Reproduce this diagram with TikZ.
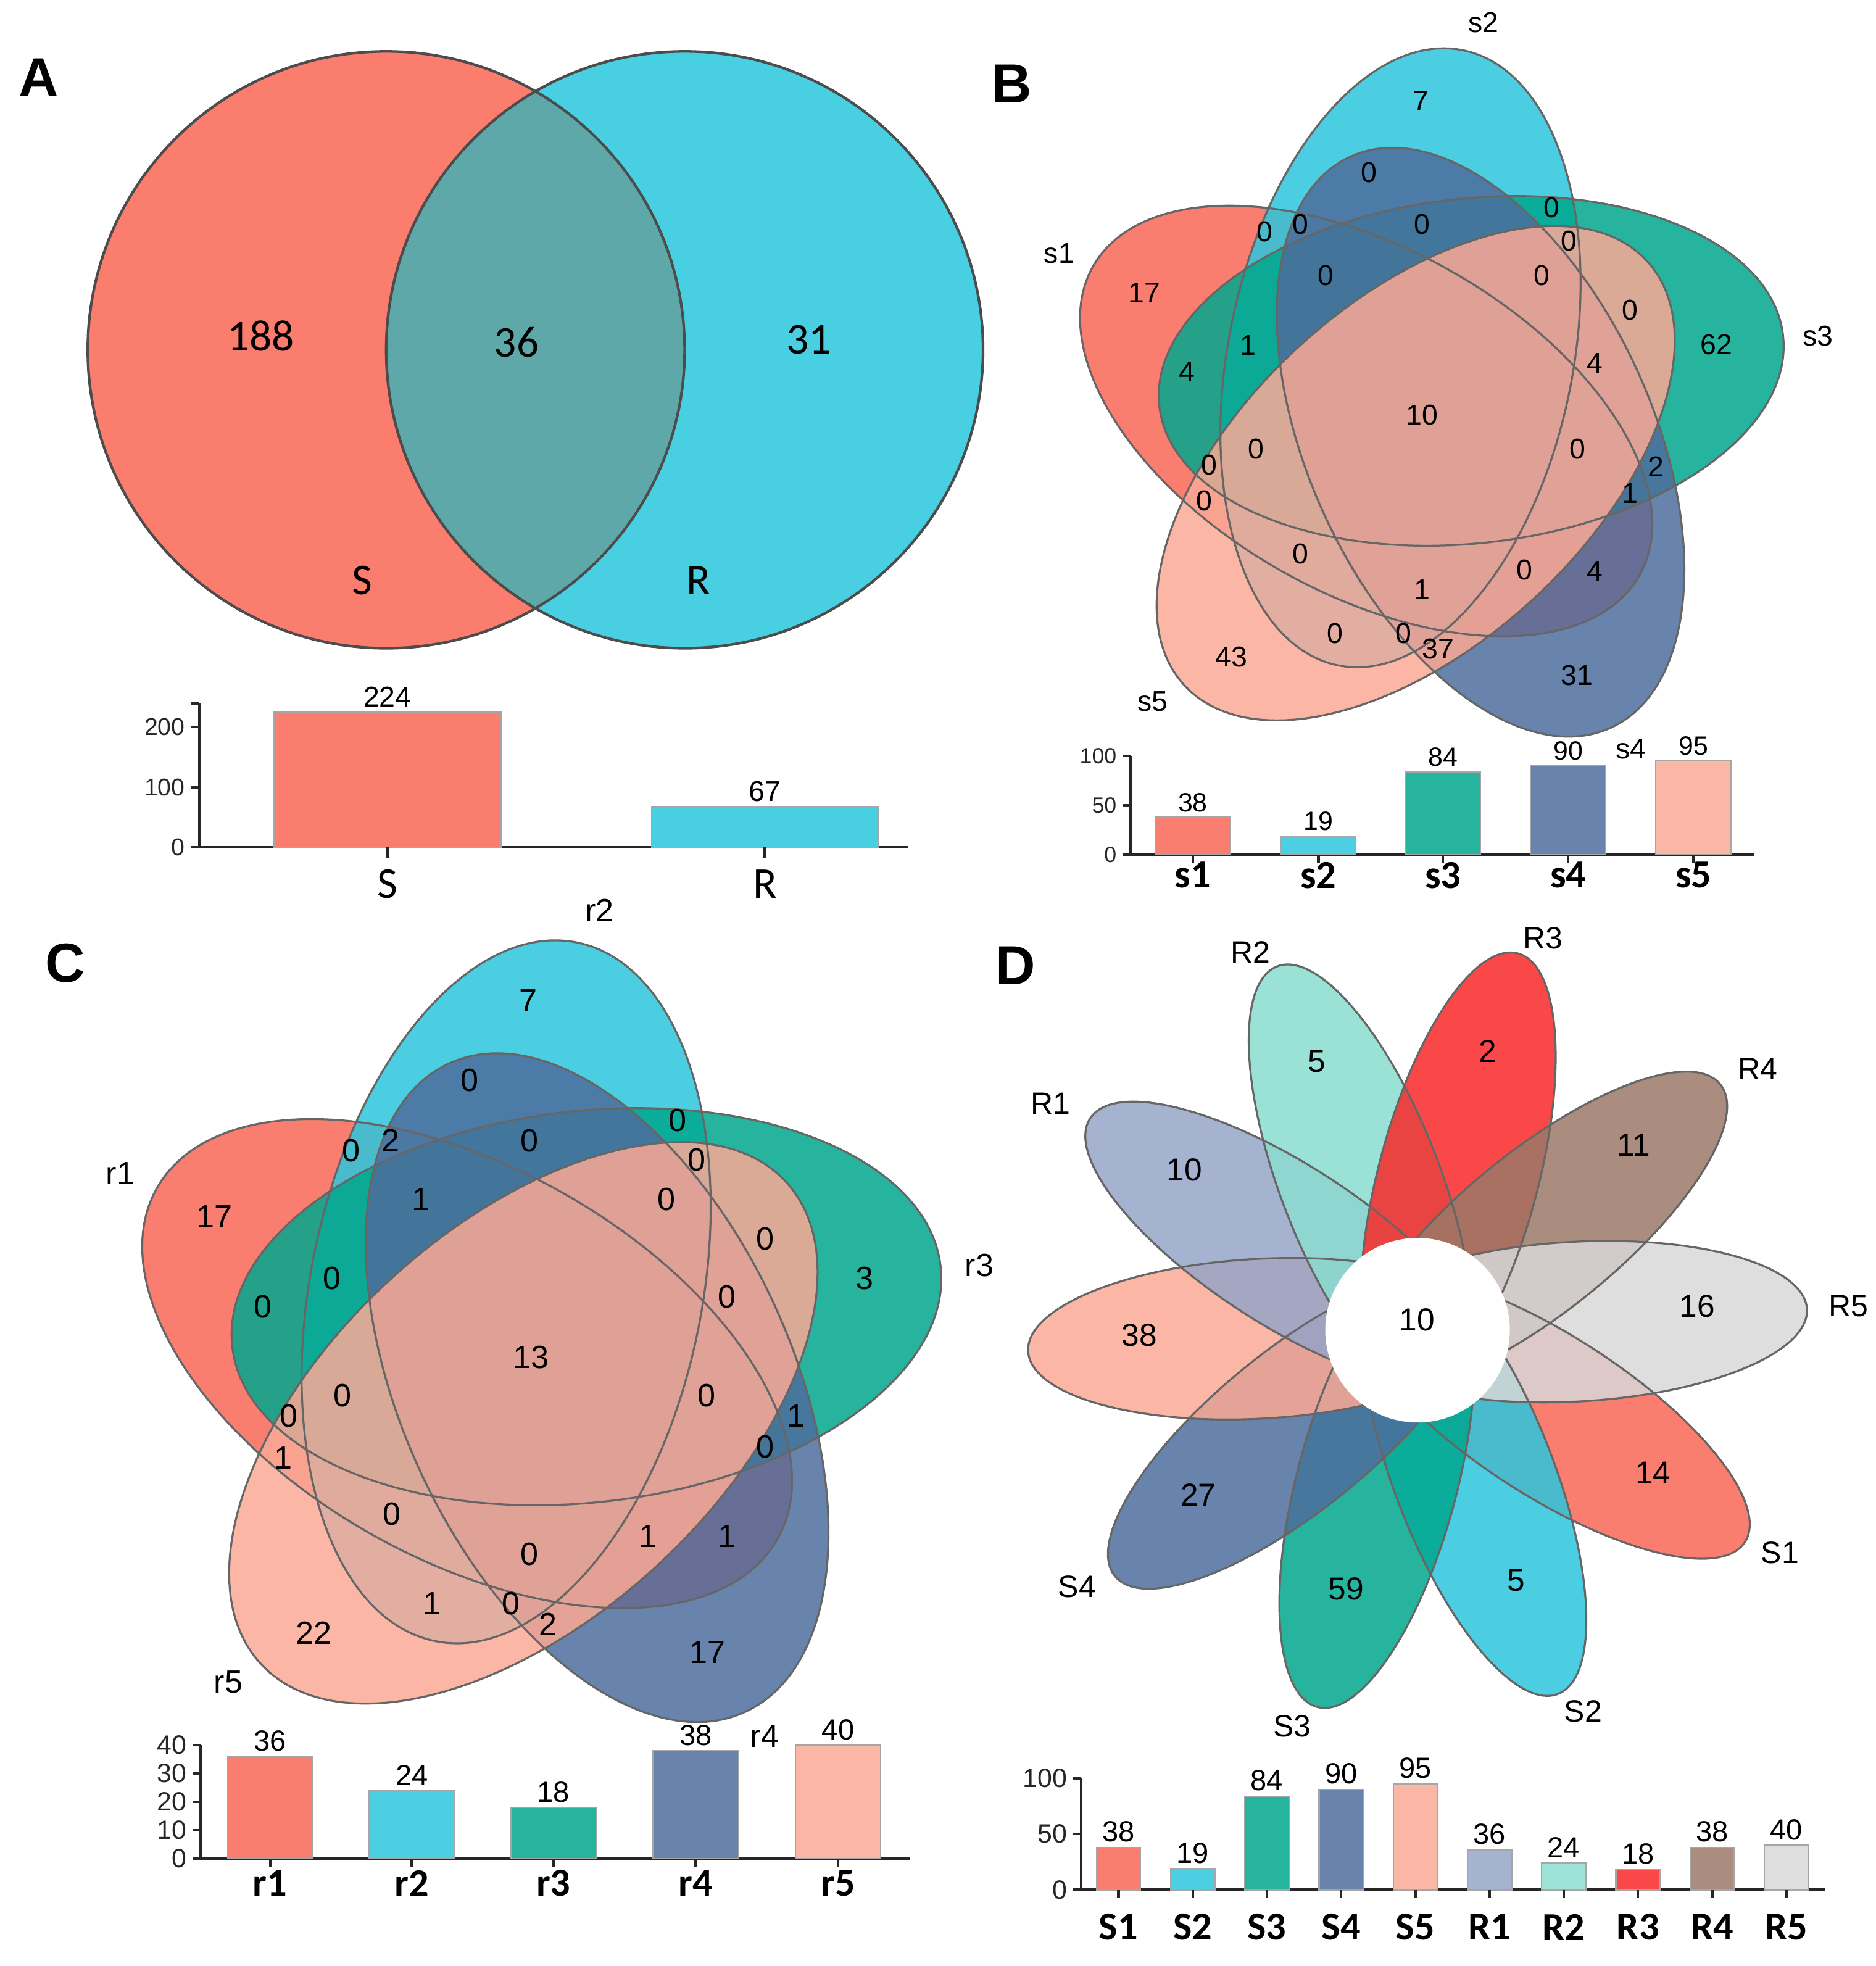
\documentclass[tikz,border=0pt]{standalone}
\usepackage{fontspec}
\setmainfont{Liberation Sans}
\newfontfamily\calfont{Carlito}
\usetikzlibrary{positioning,calc}
\definecolor{aRed}{RGB}{250,125,110}
\definecolor{aCyan}{RGB}{72,207,225}
\definecolor{aOver}{RGB}{95,168,170}
% set colours, used with fill opacity 0.85
\definecolor{vRed}{RGB}{249,103,87}
\definecolor{vCyan}{RGB}{44,198,221}
\definecolor{vTeal}{RGB}{0,167,141}
\definecolor{vSlate}{RGB}{77,109,157}
\definecolor{vSalmon}{RGB}{251,169,150}
\definecolor{vLav}{RGB}{149,164,200}
\definecolor{vAqua}{RGB}{138,221,207}
\definecolor{vScarlet}{RGB}{249,40,40}
\definecolor{vBrown}{RGB}{155,121,103}
\definecolor{vGrey}{RGB}{216,216,216}

% five ellipses round a centre: #1 centre coordinate, #2 scale
\newcommand{\vennfive}[2]{%
  \foreach \k/\col in {0/vRed,1/vCyan,2/vTeal,3/vSlate,4/vSalmon}{
    \pgfmathsetmacro{\vang}{-172.5-72*\k}
    \pgfmathsetmacro{\vrot}{-209.5-72*\k}
    \pgfmathsetmacro{\vdist}{0.488*#2}
    \pgfmathsetmacro{\vxr}{2.503*#2}
    \pgfmathsetmacro{\vyr}{1.374*#2}
    \fill[\col, fill opacity=0.85, shift={(#1)}, shift={(\vang:\vdist)}, rotate=\vrot]
      (0,0) ellipse [x radius=\vxr, y radius=\vyr];
  }
  \foreach \k in {0,...,4}{
    \pgfmathsetmacro{\vang}{-172.5-72*\k}
    \pgfmathsetmacro{\vrot}{-209.5-72*\k}
    \pgfmathsetmacro{\vdist}{0.488*#2}
    \pgfmathsetmacro{\vxr}{2.503*#2}
    \pgfmathsetmacro{\vyr}{1.374*#2}
    \draw[vline, shift={(#1)}, shift={(\vang:\vdist)}, rotate=\vrot]
      (0,0) ellipse [x radius=\vxr, y radius=\vyr];
  }
}

\begin{document}
\begin{tikzpicture}[
    panel/.style={font=\fontsize{12.5}{14}\selectfont\bfseries, inner sep=0pt},
    circtext/.style={font=\calfont\fontsize{10}{12}\selectfont, inner sep=0pt},
    vline/.style={draw=black!60, line width=0.45pt},
    vnum/.style={font=\fontsize{6.5}{7}\selectfont, inner sep=0pt},
    cnum/.style={font=\fontsize{7.3}{8}\selectfont, inner sep=0pt},
    dnum/.style={font=\fontsize{7.2}{8}\selectfont, inner sep=0pt},
    axis/.style={line width=0.6pt, black!85},
    barbox/.style={draw=black!35, line width=0.3pt},
    tick/.style={font=\fontsize{5.5}{6}\selectfont, inner sep=1pt, anchor=east},
    barval/.style={font=\fontsize{6}{7}\selectfont, inner sep=1pt, anchor=south},
    barlab/.style={font=\calfont\bfseries\fontsize{9}{10}\selectfont, inner sep=0pt},
]
    \useasboundingbox (0,0) rectangle (14.96,-15.68);

    % Panel letters
    \node[panel] (labA) at (0.31,-0.62) {A};
    \node[panel] (labB) at (8.07,-0.67) {B};
    \node[panel] (labC) at (0.52,-7.68) {C};
    \node[panel] (labD) at (8.10,-7.70) {D};

    % A: two circles
    \fill[aRed] (3.08,-2.79) circle (2.38);
    \fill[aCyan] (5.46,-2.79) circle (2.38);
    \begin{scope}
        \clip (3.08,-2.79) circle (2.38);
        \fill[aOver] (5.46,-2.79) circle (2.38);
    \end{scope}
    \draw[vline, draw=black!70, line width=0.6pt] (3.08,-2.79) circle (2.38);
    \draw[vline, draw=black!70, line width=0.6pt] (5.46,-2.79) circle (2.38);
    \node[circtext] (onlyS) at (2.08,-2.68) {188};
    \node[circtext] (both) at (4.12,-2.73) {36};
    \node[circtext] (onlyR) at (6.45,-2.71) {31};
    \node[circtext] (setS) at (2.89,-4.63) {S};
    \node[circtext] (setR) at (5.57,-4.63) {R};

    % A: bar chart
    \draw[axis] (1.589,-5.609) -- (1.589,-6.757) -- (7.24,-6.757);
    \draw[axis] (1.52,-5.609) -- (1.589,-5.609);
    \foreach \v/\yy in {0/-6.757,100/-6.281,200/-5.797}
        \draw[axis] (1.52,\yy) node[tick] (atick\v) {\v} -- (1.589,\yy);
    \foreach \x/\v/\col/\lab [count=\i] in {3.09/224/aRed/S, 6.10/67/aCyan/R}{
        \draw[barbox, fill=\col] ({\x-0.905},-6.757) rectangle ({\x+0.905},{-6.757+\v*0.0048});
        \node[barval, font=\fontsize{6.5}{7}\selectfont] (av\i) at (\x,{-6.757+\v*0.0048}) {\v};
        \draw[axis] (\x,-6.757) -- (\x,-6.84);
        \node[barlab, font=\calfont\fontsize{10}{11}\selectfont] (ax\i) at (\x,-7.05) {\lab};
    }

    % B: five s sets
    \coordinate (OB) at (11.379,-3.294);
    \vennfive{OB}{1}
    \foreach \x/\y/\txt [count=\i] in {11.332/-0.805/7, 10.92/-1.375/0, 12.373/-1.657/0,
        10.084/-1.846/0, 10.371/-1.787/0, 11.34/-1.787/0, 12.51/-1.924/0, 10.575/-2.199/0,
        12.294/-2.199/0, 9.127/-2.336/17, 13.0/-2.474/0, 13.687/-2.748/62, 9.951/-2.756/1,
        9.468/-2.964/4, 12.718/-2.897/4, 11.34/-3.31/10, 10.018/-3.58/0, 12.58/-3.58/0,
        9.645/-3.71/0, 13.205/-3.722/2, 13.0/-3.934/1, 9.605/-3.996/0, 10.371/-4.416/0,
        12.157/-4.546/0, 12.718/-4.554/4, 11.34/-4.703/1, 10.645/-5.052/0, 11.195/-5.052/0,
        11.47/-5.174/37, 9.821/-5.241/43, 12.577/-5.386/31}
        \node[vnum] (bn\i) at (\x,\y) {\txt};
    \node[vnum] (sOne) at (8.447,-2.022) {s1};
    \node[vnum] (sTwo) at (11.83,-0.18) {s2};
    \node[vnum] (sThree) at (14.50,-2.68) {s3};
    \node[vnum] (sFour) at (13.006,-5.975) {s4};
    \node[vnum] (sFive) at (9.193,-5.594) {s5};

    % B: bar chart
    \draw[axis] (9.016,-6.028) -- (9.016,-6.817) -- (13.99,-6.817);
    \foreach \v/\yy in {0/-6.817,50/-6.424,100/-6.028}
        \draw[axis] (8.95,\yy) node[tick, font=\fontsize{5}{6}\selectfont] (btick\v) {\v} -- (9.016,\yy);
    \foreach \x/\v/\col/\lab [count=\i] in {9.513/38/vRed/s1, 10.514/19/vCyan/s2,
        11.508/84/vTeal/s3, 12.507/90/vSlate/s4, 13.505/95/vSalmon/s5}{
        \draw[barbox, fill=\col!85!white] ({\x-0.3},-6.817) rectangle ({\x+0.3},{-6.817+\v*0.00789});
        \node[barval] (bv\i) at (\x,{-6.817+\v*0.00789}) {\v};
        \draw[axis] (\x,-6.817) -- (\x,-6.88);
        \node[barlab] (bx\i) at (\x,-6.98) {\lab};
    }

    % C: five r sets
    \coordinate (OC) at (4.275,-10.803);
    \vennfive{OC}{1.1357}
    \foreach \x/\y/\txt [count=\i] in {4.215/-7.98/7, 3.745/-8.613/0, 5.402/-8.934/0,
        2.80/-9.176/0, 3.116/-9.097/2, 4.224/-9.097/0, 5.556/-9.251/0, 3.358/-9.563/1,
        5.314/-9.563/0, 1.71/-9.703/17, 6.105/-9.879/0, 6.896/-10.196/3, 2.646/-10.196/0,
        2.097/-10.42/0, 5.798/-10.341/0, 4.237/-10.824/13, 2.73/-11.132/0, 5.635/-11.132/0,
        2.303/-11.295/0, 6.347/-11.295/1, 6.105/-11.541/0, 2.259/-11.629/1, 3.125/-12.077/0,
        5.169/-12.253/1, 5.798/-12.253/1, 4.224/-12.394/0, 3.446/-12.789/1, 4.074/-12.789/0,
        4.369/-12.956/2, 2.501/-13.022/22, 5.644/-13.176/17}
        \node[cnum] (cn\i) at (\x,\y) {\txt};
    \node[cnum] (rOne) at (0.96,-9.36) {r1};
    \node[cnum] (rTwo) at (4.78,-7.26) {r2};
    \node[cnum] (rThree) at (7.81,-10.09) {r3};
    \node[cnum] (rFour) at (6.097,-13.848) {r4};
    \node[cnum] (rFive) at (1.821,-13.415) {r5};

    % C: bar chart
    \draw[axis] (1.60,-13.919) -- (1.60,-14.823) -- (7.26,-14.823);
    \foreach \v [count=\i] in {0,10,20,30,40}
        \draw[axis] (1.535,{-14.823+\v*0.0226}) node[tick, font=\fontsize{6}{7}\selectfont] (ctick\i) {\v} -- (1.60,{-14.823+\v*0.0226});
    \foreach \x/\v/\col/\lab [count=\i] in {2.154/36/vRed/r1, 3.284/24/vCyan/r2,
        4.414/18/vTeal/r3, 5.549/38/vSlate/r4, 6.684/40/vSalmon/r5}{
        \draw[barbox, fill=\col!85!white] ({\x-0.34},-14.823) rectangle ({\x+0.34},{-14.823+\v*0.0226});
        \node[barval, font=\fontsize{6.6}{7}\selectfont] (cv\i) at (\x,{-14.823+\v*0.0226}) {\v};
        \draw[axis] (\x,-14.823) -- (\x,-14.89);
        \node[barlab] (cx\i) at (\x,-15.02) {\lab};
    }

    % D: flower of ten petals
    \coordinate (OD) at (11.305,-10.609);
    \foreach \k/\col in {1/vRed,2/vCyan,3/vTeal,4/vSlate,5/vSalmon,6/vLav,7/vAqua,8/vScarlet,9/vBrown,0/vGrey}{
        \pgfmathsetmacro{\pang}{3.1-36*\k}
        \fill[\col, fill opacity=0.85, shift={(OD)}, shift={(\pang:1.26)}, rotate=\pang]
            (0,0) ellipse [x radius=1.85, y radius=0.637];
    }
    \foreach \k in {0,...,9}{
        \pgfmathsetmacro{\pang}{3.1-36*\k}
        \draw[vline, shift={(OD)}, shift={(\pang:1.26)}, rotate=\pang]
            (0,0) ellipse [x radius=1.85, y radius=0.637];
    }
    \fill[white] (OD) circle (0.736);
    \node[dnum] (core) at (11.302,-10.525) {10};
    \foreach \x/\y/\txt [count=\i] in {10.502/-8.464/5, 11.865/-8.385/2, 13.03/-9.132/11,
        9.447/-9.33/10, 13.535/-10.416/16, 9.087/-10.649/38, 13.184/-11.747/14,
        9.557/-11.923/27, 10.735/-12.67/59, 12.093/-12.604/5}
        \node[dnum] (dn\i) at (\x,\y) {\txt};
    \foreach \x/\y/\txt [count=\i] in {9.975/-7.594/R2, 12.304/-7.484/R3, 14.019/-8.526/R4,
        8.38/-8.802/R1, 14.74/-10.416/R5, 14.195/-12.385/S1, 8.59/-12.657/S4,
        10.305/-13.769/S3, 12.625/-13.65/S2}
        \node[dnum, font=\fontsize{7}{8}\selectfont] (dname\i) at (\x,\y) {\txt};

    % D: bar chart
    \draw[axis] (8.621,-14.182) -- (8.621,-15.072) -- (14.553,-15.072);
    \foreach \v/\yy in {0/-15.072,50/-14.627,100/-14.182}
        \draw[axis] (8.555,\yy) node[tick, font=\fontsize{6}{7}\selectfont] (dtick\v) {\v} -- (8.621,\yy);
    \foreach \v/\col/\lab [count=\i from 0] in {38/vRed/S1, 19/vCyan/S2, 84/vTeal/S3,
        90/vSlate/S4, 95/vSalmon/S5, 36/vLav/R1, 24/vAqua/R2, 18/vScarlet/R3,
        38/vBrown/R4, 40/vGrey/R5}{
        \pgfmathsetmacro{\bx}{8.92+0.5918*\i}
        \draw[barbox, fill=\col!85!white] ({\bx-0.176},-15.072) rectangle ({\bx+0.176},{-15.072+\v*0.0089});
        \node[barval, font=\fontsize{6.6}{7}\selectfont] (dv\i) at (\bx,{-15.072+\v*0.0089}) {\v};
        \draw[axis] (\bx,-15.072) -- (\bx,-15.14);
        \node[barlab] (dx\i) at (\bx,-15.37) {\lab};
    }
\end{tikzpicture}
\end{document}
